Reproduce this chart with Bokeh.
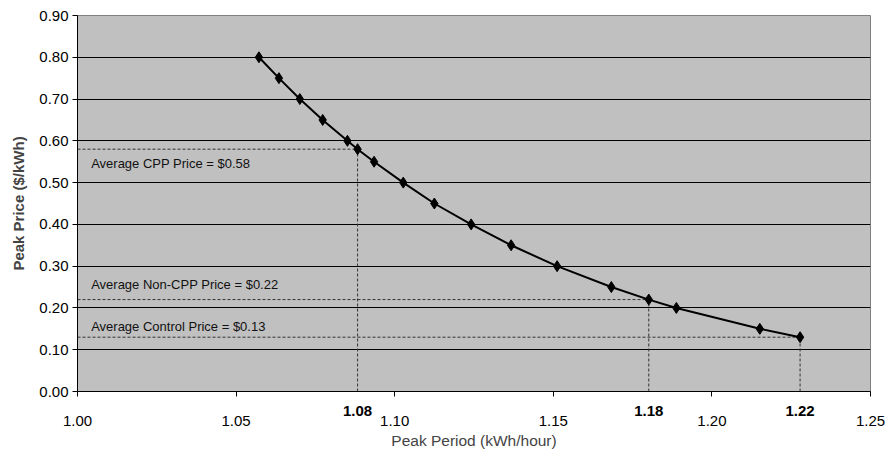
from bokeh.plotting import figure
from bokeh.models import (Range1d, FixedTicker, LinearAxis, ColumnDataSource,
                          PrintfTickFormatter, CustomJSTickFormatter)
from bokeh.core.properties import value
from bokeh.embed import file_html
from bokeh.resources import INLINE

# Data
peak_price = [0.80, 0.75, 0.70, 0.65, 0.60, 0.58, 0.55, 0.50, 0.45, 0.40,
              0.35, 0.30, 0.25, 0.22, 0.20, 0.15, 0.13]
peak_usage = [1.0572, 1.0635, 1.0701, 1.0773, 1.0851, 1.0883, 1.0935, 1.1027,
              1.1125, 1.1241, 1.1367, 1.1512, 1.1683, 1.1801, 1.1888, 1.2151, 1.2278]

ref_names = ["Average CPP Price = $0.58", "Average Non-CPP Price = $0.22",
             "Average Control Price = $0.13"]
ref_price = [0.58, 0.22, 0.13]
ref_usage = [1.0883, 1.1801, 1.2278]
ref_usage_labels = ["1.08", "1.18", "1.22"]
ref_text_dy = [14, -15, -11]

x_ticks = [1.00, 1.05, 1.10, 1.15, 1.20, 1.25]
y_ticks = [0.0, 0.1, 0.2, 0.3, 0.4, 0.5, 0.6, 0.7, 0.8, 0.9]

FONT = "Liberation Sans"

p = figure(width=888, height=451, output_backend="svg", toolbar_location=None,
           x_range=Range1d(1.00, 1.25), y_range=Range1d(0.0, 0.90),
           x_axis_location=None)
p.min_border_left = 77
p.min_border_right = 18
p.min_border_top = 15
p.min_border_bottom = 60
p.background_fill_color = "#C0C0C0"
p.border_fill_color = "white"
p.outline_line_color = "#808080"
p.outline_line_width = 1

p.xgrid.grid_line_color = None
p.ygrid.grid_line_color = "black"
p.ygrid.grid_line_width = 1
p.ygrid.ticker = FixedTicker(ticks=y_ticks)

# Axis A: axis line, tick marks at regular ticks (as minor), bold reference labels
xa = LinearAxis(ticker=FixedTicker(ticks=ref_usage, minor_ticks=x_ticks))
xa.major_label_overrides = {u: lab for u, lab in zip(ref_usage, ref_usage_labels)}
xa.major_tick_in = 0
xa.major_tick_out = 0
xa.minor_tick_in = 0
xa.minor_tick_out = 5
xa.minor_tick_line_color = "black"
xa.axis_line_color = "black"
xa.major_label_standoff = 9
xa.major_label_text_font = FONT
xa.major_label_text_font_size = "15px"
xa.major_label_text_font_style = "bold"
xa.major_label_text_color = "black"
p.add_layout(xa, "below")

# Axis B: regular tick labels and title
xb = LinearAxis(ticker=FixedTicker(ticks=x_ticks),
                formatter=PrintfTickFormatter(format="%.2f"))
xb.axis_line_color = None
xb.major_tick_in = 0
xb.major_tick_out = 0
xb.minor_tick_in = 0
xb.minor_tick_out = 0
xb.major_label_standoff = -3
xb.major_label_text_font = FONT
xb.major_label_text_font_size = "15px"
xb.major_label_text_color = "black"
xb.axis_label = "Peak Period (kWh/hour)"
xb.axis_label_text_font = FONT
xb.axis_label_text_font_size = "15.5px"
xb.axis_label_text_font_style = "normal"
xb.axis_label_standoff = 3
p.add_layout(xb, "below")

ya = p.yaxis[0]
ya.ticker = FixedTicker(ticks=y_ticks)
ya.formatter = PrintfTickFormatter(format="%.2f")
ya.major_tick_in = 0
ya.major_tick_out = 5
ya.minor_tick_out = 0
ya.minor_tick_in = 0
ya.major_label_standoff = 4
ya.major_label_text_font = FONT
ya.major_label_text_font_size = "15px"
ya.major_label_text_color = "black"
ya.axis_line_color = "black"
ya.axis_label = "Peak Price ($/kWh)"
ya.axis_label_text_font = FONT
ya.axis_label_text_font_size = "15px"
ya.axis_label_text_font_style = "bold"
ya.axis_label_standoff = 9

src = ColumnDataSource(dict(
    name=ref_names, price=ref_price, usage=ref_usage, x0=[1.00] * 3, y0=[0.0] * 3,
    dy=ref_text_dy))

# dashed reference lines
p.segment(x0="x0", y0="price", x1="usage", y1="price", source=src,
          line_color="#333333", line_dash="3 2", line_width=1)
p.segment(x0="usage", y0="y0", x1="usage", y1="price", source=src,
          line_color="#333333", line_dash="3 2", line_width=1)

# curve
p.line(peak_usage, peak_price, line_color="black", line_width=2)
p.scatter(peak_usage, peak_price, marker="diamond", size=11,
          fill_color="black", line_color="black")

# text annotations
p.text(x=1.0043, y="price", text="name", source=src, y_offset="dy",
       text_font=value(FONT), text_font_size="13px", text_baseline="middle",
       text_align="left", text_color="#111111")

open("out.html", "w").write(file_html(p, INLINE))
